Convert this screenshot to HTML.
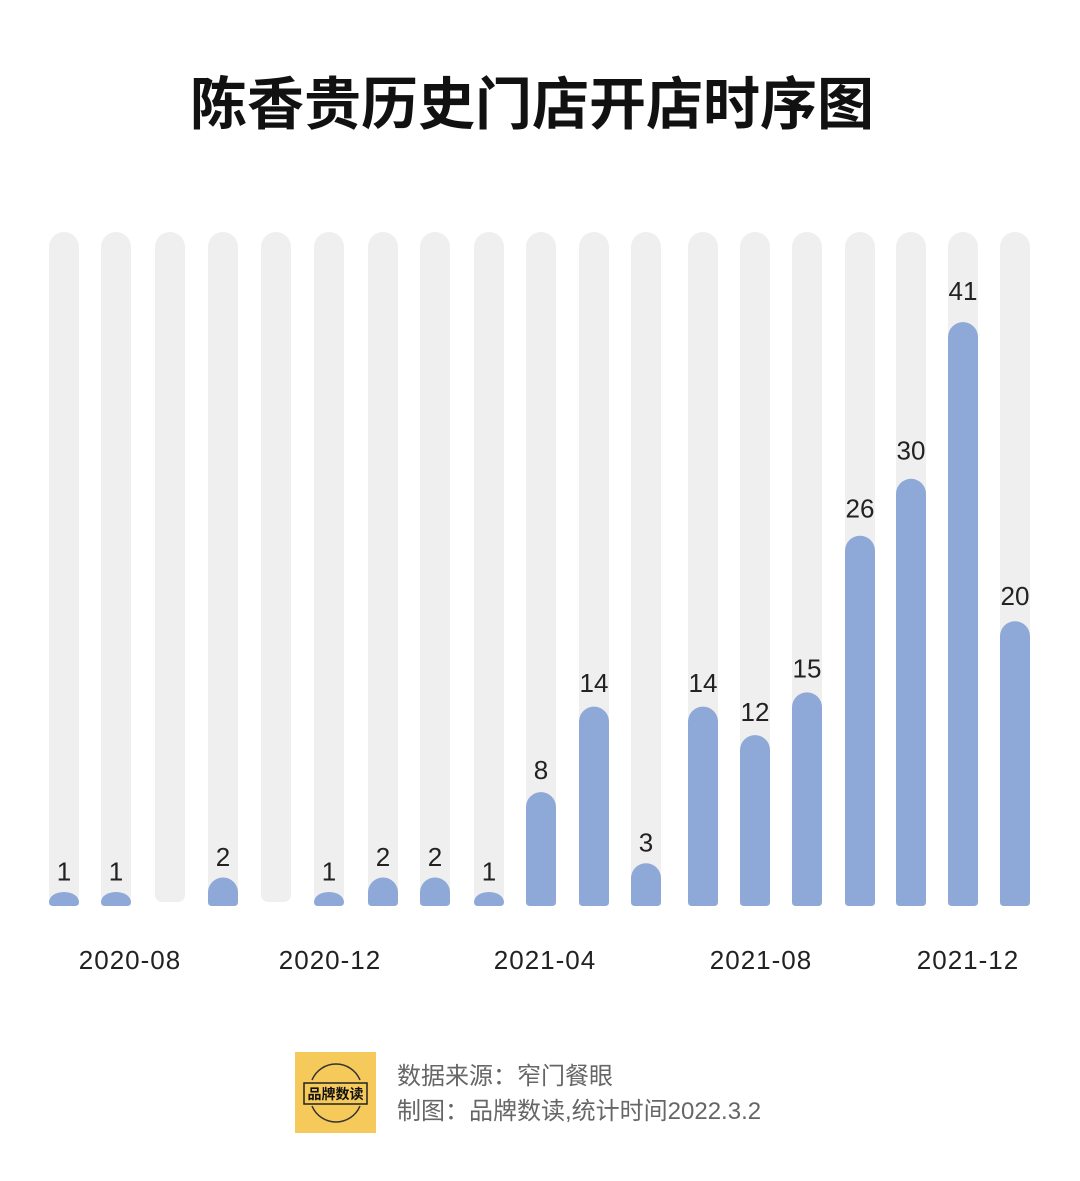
<!DOCTYPE html>
<html><head><meta charset="utf-8"><style>
html,body{margin:0;padding:0;background:#fff;}
svg{display:block;}
</style></head><body>
<svg id="s" width="1080" height="1181" viewBox="0 0 1080 1181" xmlns="http://www.w3.org/2000/svg" font-family="'Liberation Sans','Noto Sans CJK SC',sans-serif">
<rect width="1080" height="1181" fill="#fff"/>
<text x="532" y="124" text-anchor="middle" font-size="57" font-weight="bold" fill="#111" font-family="'Noto Sans CJK SC',sans-serif">陈香贵历史门店开店时序图</text>
<g id="bars"></g>
<g font-size="26" fill="#222" text-anchor="middle" letter-spacing="1">
<text x="130" y="969">2020-08</text>
<text x="330" y="969">2020-12</text>
<text x="545" y="969">2021-04</text>
<text x="761" y="969">2021-08</text>
<text x="968" y="969">2021-12</text>
</g>
<rect x="295" y="1052" width="81" height="81" fill="#F5C95A"/>
<path d="M312 1080 A26 26 0 0 1 360 1080" fill="none" stroke="#333" stroke-width="1.5"/>
<path d="M312 1106 A26 26 0 0 0 360 1106" fill="none" stroke="#333" stroke-width="1.5"/>
<rect x="304" y="1083" width="63" height="21" fill="none" stroke="#222" stroke-width="1.5"/>
<text x="335.5" y="1099" text-anchor="middle" font-size="14" font-weight="bold" fill="#111" font-family="'Noto Sans CJK SC',sans-serif">品牌数读</text>
<g font-size="24" fill="#666" font-family="'Liberation Sans','Noto Sans CJK SC',sans-serif">
<text x="397" y="1084">数据来源：窄门餐眼</text>
<text x="397" y="1119">制图：品牌数读,统计时间2022.3.2</text>
</g>
</svg>
<script>
var c=[64,116,170,223,276,329,383,435,489,541,594,646,703,755,807,860,911,963,1015];
var v=[1,1,0,2,0,1,2,2,1,8,14,3,14,12,15,26,30,41,20];
var g=document.getElementById('bars'),h='';
for(var i=0;i<c.length;i++){
 var x0=c[i]-15;
 h+='<rect x="'+x0+'" y="232" width="30" height="670" rx="15" fill="#EFEFEF"/>';
 h+='<rect x="'+x0+'" y="870" width="30" height="32" rx="7" fill="#EFEFEF"/>';
 if(v[i]>0){
  var hh=v[i]==1?14:v[i]*14.24,t=906-hh,ry=Math.min(15,hh-4);
  h+='<path d="M'+x0+' 902 V'+(t+ry)+' A15 '+ry+' 0 0 1 '+(x0+30)+' '+(t+ry)+' V902 Q'+(x0+30)+' 906 '+(x0+26)+' 906 H'+(x0+4)+' Q'+x0+' 906 '+x0+' 902 Z" fill="#8EA9D8"/>';
  var b=t-11-v[i]*0.27;
  h+='<text x="'+c[i]+'" y="'+b+'" text-anchor="middle" font-size="26" fill="#222">'+v[i]+'</text>';
 }
}
g.innerHTML=h;
</script>
</body></html>
